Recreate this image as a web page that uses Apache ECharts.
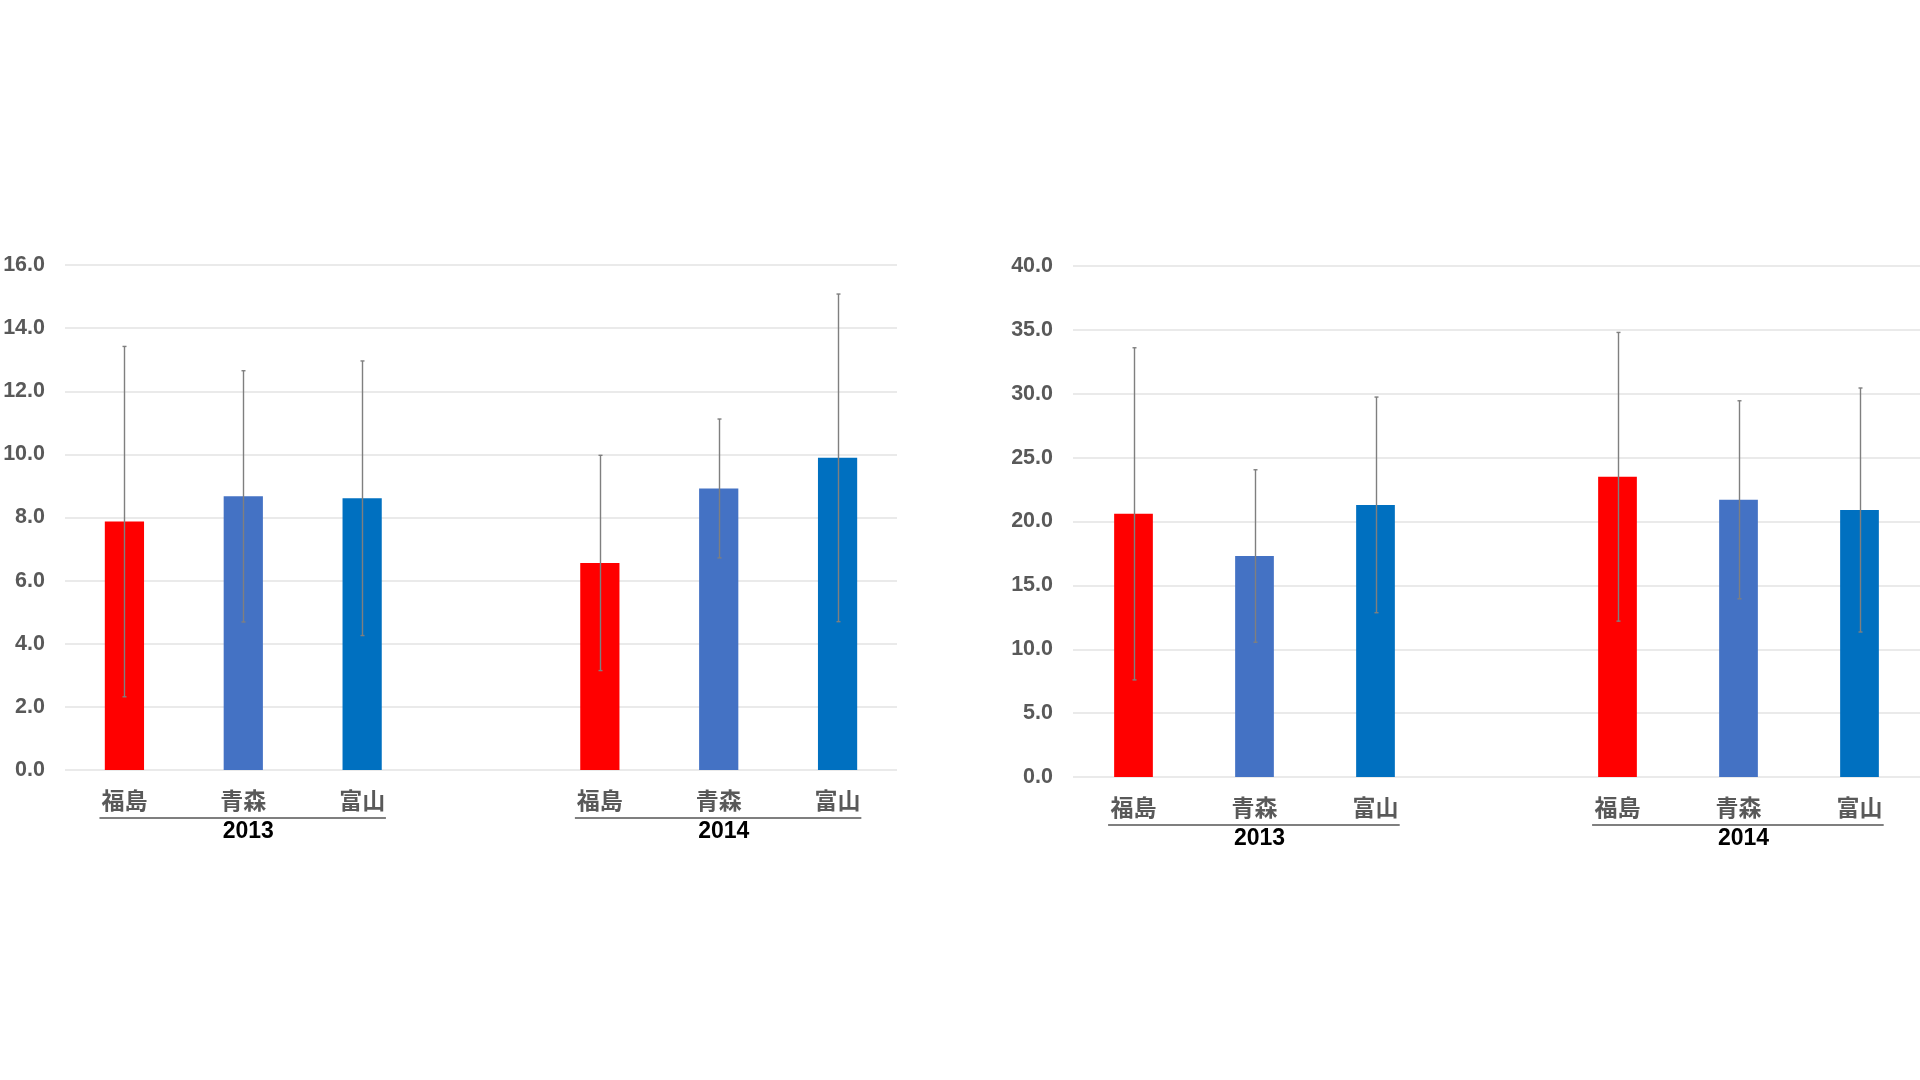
<!DOCTYPE html>
<html>
<head>
<meta charset="utf-8">
<script src="https://cdn.jsdelivr.net/npm/echarts@6/dist/echarts.min.js"></script>
<style>
html,body{margin:0;padding:0;background:#fff;}
#c{width:1920px;height:1080px;}
</style>
</head>
<body>
<div id="c"></div>
<script>
// ---- data ----
const categories = ['福島', '青森', '富山', '', '福島', '青森', '富山'];
const years = ['2013', '2014'];
const yearSpans = [[0, 2, 1], [4, 6, 5]]; // first idx, last idx, middle idx
const barColors = ['#FF0000', '#4472C4', '#0070C0', '#FFFFFF', '#FF0000', '#4472C4', '#0070C0'];

const leftMean = [7.87, 8.67, 8.61, null, 6.56, 8.92, 9.89];
const leftSD   = [5.55, 3.98, 4.35, null, 3.41, 2.20, 5.19];
const leftTicks = { min: 0, max: 16, interval: 2 };

const rightMean = [20.6, 17.3, 21.3, null, 23.5, 21.7, 20.9];
const rightSD   = [13.0, 6.75, 8.44, null, 11.3, 7.75, 9.55];
const rightTicks = { min: 0, max: 40, interval: 5 };

// ---- helpers ----
const labelGrey = '#595959';
const cjkFont = '"Liberation Sans", Arial, "Noto Sans CJK JP", sans-serif';

function barData(mean) {
  return mean.map((v, i) => ({ value: v, itemStyle: { color: barColors[i] } }));
}
function errData(mean, sd) {
  const out = [];
  mean.forEach((m, i) => { if (m != null) out.push([i, m - sd[i], m + sd[i]]); });
  return out;
}
function errRender(params, api) {
  const lo = api.coord([api.value(0), api.value(1)]);
  const hi = api.coord([api.value(0), api.value(2)]);
  const x = Math.round(lo[0]) + 0.5;
  const cap = 2;
  const st = { stroke: '#7F7F7F', lineWidth: 1.4 };
  return {
    type: 'group',
    children: [
      { type: 'line', shape: { x1: x, y1: hi[1], x2: x, y2: lo[1] }, style: st },
      { type: 'line', shape: { x1: x - cap, y1: hi[1], x2: x + cap, y2: hi[1] }, style: st },
      { type: 'line', shape: { x1: x - cap, y1: lo[1], x2: x + cap, y2: lo[1] }, style: st }
    ]
  };
}
function groupRender(params, api) {
  const p0 = api.coord([api.value(0), 0]);
  const p1 = api.coord([api.value(1), 0]);
  const pm = api.coord([api.value(2), 0]);
  const bw = api.size([1, 0])[0];
  const y = p0[1] + 48;
  return {
    type: 'group',
    children: [
      { type: 'line', shape: { x1: p0[0] - 0.21 * bw, y1: y, x2: p1[0] + 0.2 * bw, y2: y },
        style: { stroke: '#7F7F7F', lineWidth: 2 } },
      { type: 'text', x: pm[0] + 5, y: p0[1] + 62,
        style: { text: years[params.dataIndex], fill: '#000000', font: 'bold 23px ' + cjkFont,
                 align: 'center', verticalAlign: 'middle' } }
    ]
  };
}
function xAxisFor(gi) {
  return {
    type: 'category', gridIndex: gi, data: categories,
    axisLine: { show: false }, axisTick: { show: false },
    axisLabel: { color: labelGrey, fontSize: 23, fontWeight: 'bold', fontFamily: cjkFont, margin: 21, interval: 0 }
  };
}
function yAxisFor(gi, t) {
  return {
    type: 'value', gridIndex: gi, min: t.min, max: t.max, interval: t.interval,
    axisLine: { show: false }, axisTick: { show: false },
    axisLabel: { color: labelGrey, fontSize: 21.5, fontWeight: 'bold', fontFamily: cjkFont, margin: 20,
                 formatter: v => v.toFixed(1) },
    splitLine: { lineStyle: { color: '#E3E3E3', width: 1.5 } }
  };
}

const chart = echarts.init(document.getElementById('c'));
chart.setOption({
  backgroundColor: '#FFFFFF',
  animation: false,
  grid: [
    { left: 65, right: 1023, top: 265, bottom: 310, containLabel: false },
    { left: 1073, right: 0, top: 266, bottom: 303, containLabel: false }
  ],
  xAxis: [xAxisFor(0), xAxisFor(1)],
  yAxis: [yAxisFor(0, leftTicks), yAxisFor(1, rightTicks)],
  series: [
    { type: 'bar', xAxisIndex: 0, yAxisIndex: 0, barWidth: '33%', data: barData(leftMean) },
    { type: 'bar', xAxisIndex: 1, yAxisIndex: 1, barWidth: '32%', data: barData(rightMean) },
    { type: 'custom', xAxisIndex: 0, yAxisIndex: 0, renderItem: errRender, data: errData(leftMean, leftSD), z: 10 },
    { type: 'custom', xAxisIndex: 1, yAxisIndex: 1, renderItem: errRender, data: errData(rightMean, rightSD), z: 10 },
    { type: 'custom', xAxisIndex: 0, yAxisIndex: 0, renderItem: groupRender, data: yearSpans, clip: false },
    { type: 'custom', xAxisIndex: 1, yAxisIndex: 1, renderItem: groupRender, data: yearSpans, clip: false }
  ]
});
</script>
</body>
</html>
